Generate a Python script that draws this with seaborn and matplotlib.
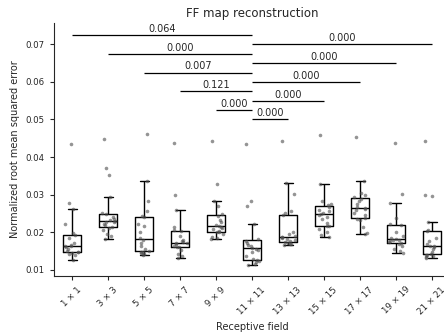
import numpy as np
import pandas as pd
import matplotlib
matplotlib.use("Agg")
import matplotlib.pyplot as plt
import seaborn as sns

fields = ["1 × 1", "3 × 3", "5 × 5", "7 × 7", "9 × 9", "11 × 11",
          "13 × 13", "15 × 15", "17 × 17", "19 × 19", "21 × 21"]

rf_1 = [0.0126, 0.0138, 0.0141, 0.0144, 0.0146, 0.0146, 0.0150, 0.0155, 0.0160, 0.0163,
        0.0163, 0.0166, 0.0170, 0.0185, 0.0192, 0.0197, 0.0222, 0.0261, 0.0278, 0.0435]
rf_3 = [0.0181, 0.0190, 0.0196, 0.0205, 0.0212, 0.0214, 0.0218, 0.0222, 0.0226, 0.0228,
        0.0230, 0.0233, 0.0236, 0.0240, 0.0248, 0.0252, 0.0293, 0.0352, 0.0370, 0.0449]
rf_5 = [0.0139, 0.0141, 0.0144, 0.0146, 0.0148, 0.0150, 0.0155, 0.0163, 0.0172, 0.0180,
        0.0184, 0.0200, 0.0215, 0.0222, 0.0240, 0.0243, 0.0255, 0.0282, 0.0335, 0.0460]
rf_7 = [0.0130, 0.0136, 0.0142, 0.0152, 0.0159, 0.0161, 0.0164, 0.0167, 0.0170, 0.0171,
        0.0173, 0.0176, 0.0180, 0.0190, 0.0202, 0.0205, 0.0213, 0.0258, 0.0298, 0.0437]
rf_9 = [0.0181, 0.0185, 0.0188, 0.0195, 0.0199, 0.0200, 0.0204, 0.0208, 0.0211, 0.0214,
        0.0216, 0.0220, 0.0226, 0.0232, 0.0244, 0.0248, 0.0270, 0.0282, 0.0328, 0.0442]
rf_11 = [0.0113, 0.0116, 0.0119, 0.0122, 0.0125, 0.0127, 0.0135, 0.0146, 0.0152, 0.0156,
         0.0158, 0.0162, 0.0166, 0.0172, 0.0177, 0.0181, 0.0221, 0.0269, 0.0282, 0.0434]
rf_13 = [0.0165, 0.0167, 0.0169, 0.0171, 0.0173, 0.0175, 0.0178, 0.0181, 0.0184, 0.0186,
         0.0188, 0.0190, 0.0195, 0.0201, 0.0245, 0.0250, 0.0255, 0.0301, 0.0330, 0.0442]
rf_15 = [0.0186, 0.0192, 0.0200, 0.0208, 0.0215, 0.0217, 0.0225, 0.0235, 0.0240, 0.0246,
         0.0248, 0.0251, 0.0255, 0.0260, 0.0268, 0.0272, 0.0275, 0.0282, 0.0328, 0.0458]
rf_17 = [0.0195, 0.0197, 0.0214, 0.0231, 0.0236, 0.0238, 0.0245, 0.0252, 0.0258, 0.0262,
         0.0264, 0.0268, 0.0275, 0.0282, 0.0289, 0.0293, 0.0300, 0.0303, 0.0337, 0.0453]
rf_19 = [0.0145, 0.0150, 0.0156, 0.0162, 0.0169, 0.0171, 0.0174, 0.0176, 0.0178, 0.0180,
         0.0182, 0.0185, 0.0190, 0.0200, 0.0218, 0.0222, 0.0237, 0.0278, 0.0302, 0.0437]
rf_21 = [0.0130, 0.0133, 0.0136, 0.0138, 0.0140, 0.0142, 0.0148, 0.0155, 0.0160, 0.0162,
         0.0164, 0.0168, 0.0175, 0.0185, 0.0202, 0.0206, 0.0228, 0.0297, 0.0299, 0.0442]

# p-values: comparisons of each field with 11 x 11
p_left = ["0.064", "0.000", "0.007", "0.121", "0.000"]    # 1,3,5,7,9 vs 11
p_right = ["0.000", "0.000", "0.000", "0.000", "0.000"]   # 13,15,17,19,21 vs 11

yticks = [0.01, 0.02, 0.03, 0.04, 0.05, 0.06, 0.07]

groups = [rf_1, rf_3, rf_5, rf_7, rf_9, rf_11, rf_13, rf_15, rf_17, rf_19, rf_21]
df = pd.DataFrame({
    "field": np.repeat(fields, [len(g) for g in groups]),
    "nrmse": np.concatenate(groups),
})

sns.set_style("ticks")
plt.rcParams["font.family"] = ["DejaVu Sans"]

fig = plt.figure(figsize=(4.44, 3.35), dpi=100)
ax = fig.add_axes([54 / 444, 1 - 276 / 335, 396 / 444, 253 / 335])

sns.boxplot(data=df, x="field", y="nrmse", order=fields, fill=False, color="black",
            width=0.5, showfliers=False, linewidth=1.0, ax=ax)
np.random.seed(3)
sns.stripplot(data=df, x="field", y="nrmse", order=fields, color="0.3", alpha=0.6,
              size=2.6, jitter=0.2, linewidth=0, ax=ax, zorder=3)

ref = fields.index("11 × 11")
for i, p in enumerate(p_left):
    y = 0.0725 - 0.005 * i
    ax.plot([i, ref], [y, y], color="black", lw=0.9, solid_capstyle="butt")
    ax.text((i + ref) / 2, y + 0.0003, p, ha="center", va="bottom", fontsize=7)
for i, p in enumerate(p_right):
    j = ref + 1 + i
    y = 0.050 + 0.005 * i
    ax.plot([ref, j], [y, y], color="black", lw=0.9, solid_capstyle="butt")
    ax.text((ref + j) / 2, y + 0.0003, p, ha="center", va="bottom", fontsize=7)

ax.set_xlim(-0.5, 10.5)
ax.set_ylim(0.0083, 0.0757)
ax.set_yticks(yticks)
ax.set_yticklabels([f"{v:.2f}" for v in yticks])
ax.tick_params(axis="both", labelsize=6.2, length=3, width=0.8)
plt.setp(ax.get_xticklabels(), rotation=45)
ax.set_xlabel("Receptive field", fontsize=7)
ax.set_ylabel("Normalized root mean squared error", fontsize=7)
ax.set_title("FF map reconstruction", fontsize=8.5, pad=4)
sns.despine(ax=ax)
for s in ["left", "bottom"]:
    ax.spines[s].set_linewidth(0.8)

fig.savefig("out.png", dpi=100)
